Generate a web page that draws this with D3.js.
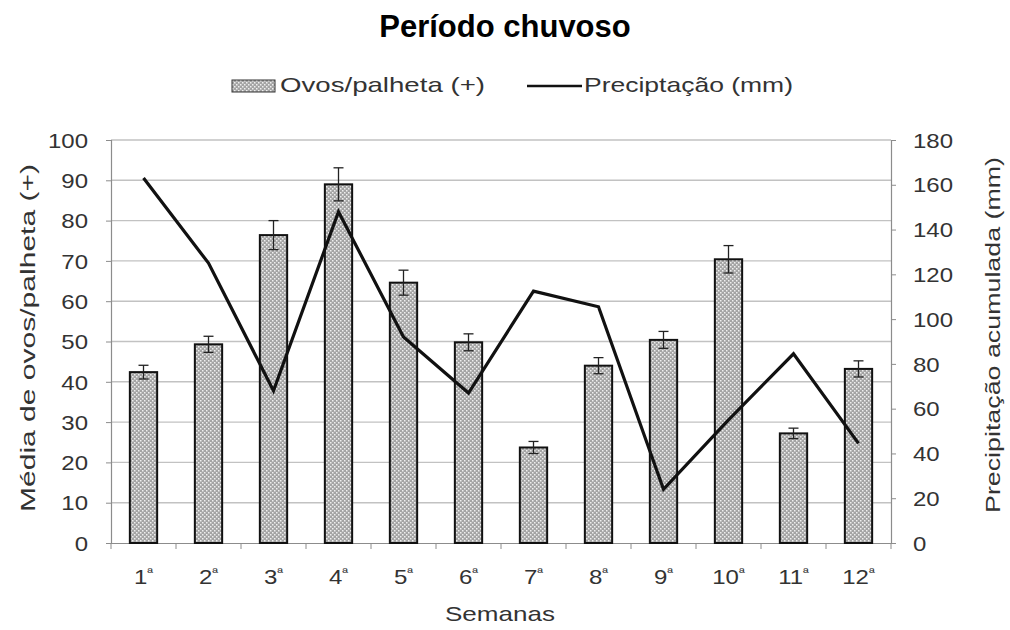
<!DOCTYPE html>
<html>
<head>
<meta charset="utf-8">
<script src="https://cdn.jsdelivr.net/npm/d3@7"></script>
<style>
  html, body { margin: 0; padding: 0; background: #fff; }
  svg text { font-family: "Liberation Sans", Arial, sans-serif; }
</style>
</head>
<body>
<svg id="chart" width="1010" height="630"></svg>
<script>
// Weeks of the rainy period
const weeks = ["1", "2", "3", "4", "5", "6", "7", "8", "9", "10", "11", "12"];
// Mean eggs per paddle (left axis) and its error
const eggs = [42.4, 49.3, 76.4, 89.0, 64.6, 49.8, 23.7, 44.0, 50.4, 70.4, 27.2, 43.2];
const eggsErr = [1.7, 2.0, 3.6, 4.1, 3.1, 2.1, 1.5, 2.0, 2.1, 3.4, 1.3, 2.0];
// Accumulated rainfall in mm (right axis)
const rain = [163, 125, 68, 148, 92, 67, 112.5, 105.5, 24, 55, 84.5, 44.5];
const leftTicks = [0, 10, 20, 30, 40, 50, 60, 70, 80, 90, 100];
const rightTicks = [0, 20, 40, 60, 80, 100, 120, 140, 160, 180];

const svg = d3.select("#chart");
const plotLeft = 111, plotRight = 891, plotTop = 140, plotBottom = 543;
const textColor = "#333";
const wide = 1.2; // horizontal widening of the label type

const x = d3.scaleBand().domain(weeks).range([plotLeft, plotRight]).paddingInner(0.58).paddingOuter(0.29);
const xStep = d3.scaleBand().domain(weeks).range([plotLeft, plotRight]);
const yL = d3.scaleLinear().domain([0, 100]).range([plotBottom, plotTop]);
const yR = d3.scaleLinear().domain([0, 180]).range([plotBottom, plotTop]);

// dotted fill for the bars
const defs = svg.append("defs");
const pat = defs.append("pattern").attr("id", "dots").attr("patternUnits", "userSpaceOnUse")
  .attr("width", 4).attr("height", 4);
pat.append("rect").attr("width", 4).attr("height", 4).attr("fill", "#a4a4a4");
pat.append("rect").attr("x", 0).attr("y", 0).attr("width", 1.5).attr("height", 1.5).attr("fill", "#efefef");
pat.append("rect").attr("x", 2).attr("y", 2).attr("width", 1.5).attr("height", 1.5).attr("fill", "#efefef");

// horizontal gridlines
svg.append("g").selectAll("line").data(leftTicks.slice(1)).join("line")
  .attr("x1", plotLeft).attr("x2", plotRight)
  .attr("y1", d => yL(d)).attr("y2", d => yL(d))
  .attr("stroke", "#c2c2c2").attr("stroke-width", 1.4);

// left axis
const axL = svg.append("g").attr("transform", `translate(${plotLeft},0)`)
  .call(d3.axisLeft(yL).tickValues(leftTicks).tickSize(5));
axL.select(".domain").attr("stroke", "#8c8c8c").attr("stroke-width", 1.2);
axL.selectAll(".tick line").attr("stroke", "#8c8c8c");
axL.selectAll(".tick text").attr("x", null).attr("dy", "0.36em")
  .attr("transform", `translate(-23,0) scale(${wide},1)`)
  .attr("font-size", 20).attr("fill", textColor);

// right axis
const axR = svg.append("g").attr("transform", `translate(${plotRight},0)`)
  .call(d3.axisRight(yR).tickValues(rightTicks).tickSize(5));
axR.select(".domain").attr("stroke", "#8c8c8c").attr("stroke-width", 1.2);
axR.selectAll(".tick line").attr("stroke", "#8c8c8c");
axR.selectAll(".tick text").attr("x", null).attr("dy", "0.36em")
  .attr("transform", `translate(22,0) scale(${wide},1)`)
  .attr("font-size", 20).attr("fill", textColor);

// bottom axis with separators between weeks
const axB = svg.append("g").attr("transform", `translate(0,${plotBottom})`)
  .call(d3.axisBottom(xStep).tickSize(0).tickFormat(""));
axB.select(".domain").attr("stroke", "#8c8c8c").attr("stroke-width", 1.2);
svg.append("g").selectAll("line").data(d3.range(weeks.length + 1)).join("line")
  .attr("x1", i => plotLeft + i * xStep.step()).attr("x2", i => plotLeft + i * xStep.step())
  .attr("y1", plotBottom).attr("y2", plotBottom + 6)
  .attr("stroke", "#8c8c8c");

const lbl = svg.append("g").selectAll("text").data(weeks).join("text")
  .attr("transform", d => `translate(${xStep(d) + xStep.bandwidth() / 2},584) scale(${wide},1)`)
  .attr("text-anchor", "middle")
  .attr("font-size", 20).attr("fill", textColor);
lbl.append("tspan").text(d => d);
lbl.append("tspan").attr("font-size", 13).attr("dy", -7).text("ª");

// bars
svg.append("g").selectAll("rect").data(eggs).join("rect")
  .attr("x", (d, i) => x(weeks[i]))
  .attr("width", x.bandwidth())
  .attr("y", d => yL(d))
  .attr("height", d => plotBottom - yL(d))
  .attr("fill", "url(#dots)")
  .attr("stroke", "#111").attr("stroke-width", 2);

// error bars
const eb = svg.append("g").attr("stroke", "#222").attr("stroke-width", 1.3);
eggs.forEach((v, i) => {
  const cx = x(weeks[i]) + x.bandwidth() / 2;
  const y1 = yL(v + eggsErr[i]), y2 = yL(v - eggsErr[i]);
  eb.append("line").attr("x1", cx).attr("x2", cx).attr("y1", y1).attr("y2", y2);
  eb.append("line").attr("x1", cx - 5).attr("x2", cx + 5).attr("y1", y1).attr("y2", y1);
  eb.append("line").attr("x1", cx - 5).attr("x2", cx + 5).attr("y1", y2).attr("y2", y2);
});

// rainfall line
const line = d3.line()
  .x((d, i) => xStep(weeks[i]) + xStep.bandwidth() / 2)
  .y(d => yR(d));
svg.append("path").datum(rain).attr("d", line)
  .attr("fill", "none").attr("stroke", "#111").attr("stroke-width", 3.2)
  .attr("stroke-linejoin", "miter");

// titles
svg.append("text").attr("x", 505).attr("y", 37).attr("text-anchor", "middle")
  .attr("font-size", 31).attr("font-weight", "bold").attr("fill", "#000").text("Período chuvoso");
svg.append("text").attr("x", 445).attr("y", 621)
  .attr("font-size", 21).attr("fill", textColor)
  .attr("textLength", 110).attr("lengthAdjust", "spacingAndGlyphs").text("Semanas");
svg.append("text").attr("transform", `translate(35,512) rotate(-90)`)
  .attr("font-size", 20).attr("fill", textColor)
  .attr("textLength", 348).attr("lengthAdjust", "spacingAndGlyphs")
  .text("Média de ovos/palheta (+)");
svg.append("text").attr("transform", `translate(1000,513) rotate(-90)`)
  .attr("font-size", 20).attr("fill", textColor)
  .attr("textLength", 356).attr("lengthAdjust", "spacingAndGlyphs")
  .text("Precipitação acumulada (mm)");

// legend
const lg = svg.append("g");
lg.append("rect").attr("x", 232).attr("y", 80).attr("width", 43).attr("height", 12)
  .attr("fill", "url(#dots)").attr("stroke", "#333").attr("stroke-width", 1);
lg.append("text").attr("x", 280).attr("y", 92).attr("font-size", 21).attr("fill", textColor)
  .attr("textLength", 205).attr("lengthAdjust", "spacingAndGlyphs")
  .text("Ovos/palheta (+)");
lg.append("line").attr("x1", 527).attr("x2", 582).attr("y1", 86).attr("y2", 86)
  .attr("stroke", "#111").attr("stroke-width", 2.5);
lg.append("text").attr("x", 584).attr("y", 92).attr("font-size", 21).attr("fill", textColor)
  .attr("textLength", 209).attr("lengthAdjust", "spacingAndGlyphs")
  .text("Preciptação (mm)");
</script>
</body>
</html>
